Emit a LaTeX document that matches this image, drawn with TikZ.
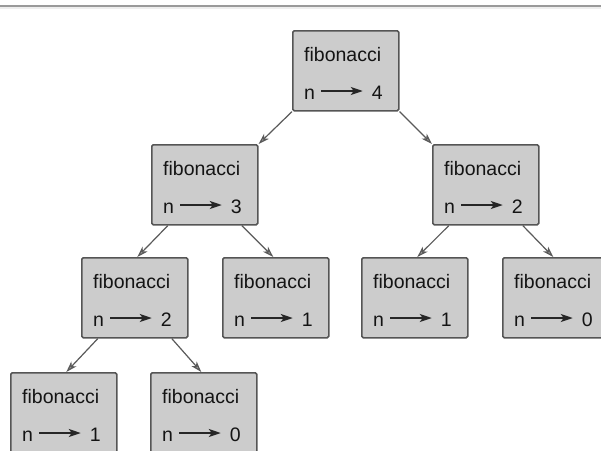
\documentclass[tikz,border=0pt]{standalone}
\usepackage{fontspec}
\setmainfont{Liberation Sans}
\usetikzlibrary{arrows.meta,calc}
\definecolor{boxfill}{HTML}{CCCCCC}
\definecolor{boxline}{HTML}{555555}
\definecolor{linkline}{HTML}{5A5A5A}
\definecolor{ruleline}{HTML}{9A9A9A}
\definecolor{rulelight}{HTML}{EEEEEE}
\tikzset{
  fibframe/.style={draw=boxline, fill=boxfill, line width=1.6pt, rounded corners=1.5pt,
    minimum width=106pt, minimum height=80pt, inner sep=0pt, anchor=north west},
  fibtext/.style={inner sep=0pt, font=\fontsize{19.5}{23}\selectfont, text=black!92},
  valarrow/.style={draw=black!85, line width=1.6pt, -{Stealth[length=12pt,width=8pt,inset=3pt]}},
  link/.style={draw=linkline, line width=1.2pt, -{Stealth[length=11pt,width=7pt,inset=3pt,fill=linkline!60]}},
}
\newcommand\fibbox[4]{%
  \node[fibframe] (#1) at (#2,#3) {};
  \node[fibtext, anchor=base west] (#1-name) at ($(#1.north west)+(12,31)$) {fibonacci};
  \node[fibtext, anchor=base west] (#1-n) at ($(#1.north west)+(12,69)$) {n};
  \node[fibtext, anchor=base east] (#1-v) at ($(#1.north west)+(91,69)$) {#4};
  \draw[valarrow] ([xshift=6pt,yshift=8pt]#1-n.base east) -- ([xshift=-9pt,yshift=8pt]#1-v.base west);
}
\begin{document}
\begin{tikzpicture}[x=1pt,y=-1pt]
  \useasboundingbox (0,0) rectangle (601,450);
  \fill[white] (0,0) rectangle (601,450);
  \clip (0,0) rectangle (601,450);
  \draw[rulelight, line width=2pt] (0,8) -- (601,8);
  \draw[ruleline, line width=2pt] (0,6) -- (601,6);
  \fibbox{f4}{292}{30}{4}
  \fibbox{f3}{151}{144}{3}
  \fibbox{f2}{432}{144}{2}
  \fibbox{f2a}{81}{257}{2}
  \fibbox{f1a}{222}{257}{1}
  \fibbox{f1b}{361}{257}{1}
  \fibbox{f0a}{502}{257}{0}
  \fibbox{f1c}{10}{372}{1}
  \fibbox{f0b}{150}{372}{0}
  \draw[link] (f4.south west) -- (f3.north east);
  \draw[link] (f4.south east) -- (f2.north west);
  \draw[link] ([xshift=-37pt]f3.south) -- ([xshift=2.5pt]f2a.north);
  \draw[link] ([xshift=37pt]f3.south) -- ([xshift=-2.5pt]f1a.north);
  \draw[link] ([xshift=-37pt]f2.south) -- ([xshift=2.5pt]f1b.north);
  \draw[link] ([xshift=37pt]f2.south) -- ([xshift=-2.5pt]f0a.north);
  \draw[link] ([xshift=-37pt]f2a.south) -- ([xshift=2.5pt]f1c.north);
  \draw[link] ([xshift=37pt]f2a.south) -- ([xshift=-2.5pt]f0b.north);
\end{tikzpicture}
\end{document}
